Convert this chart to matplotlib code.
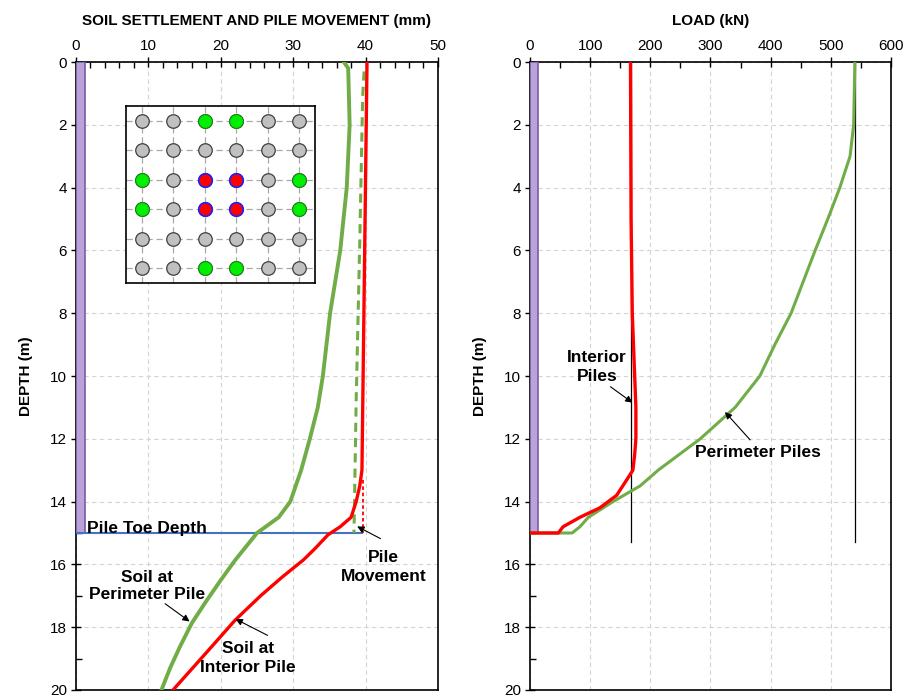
import matplotlib
matplotlib.use("Agg")
import matplotlib.pyplot as plt
from matplotlib.ticker import MultipleLocator

plt.rcParams['font.family'] = ['Liberation Sans', 'DejaVu Sans']

# ---- Left panel data (settlement, mm) ----
perim_depth = [0, 0.2, 2, 4, 6, 8, 10, 11, 12, 13, 14, 14.5, 15, 15.86, 16.5, 17.2, 17.87, 18.6, 19.3, 20]
perim_settle = [37.0, 37.6, 37.8, 37.4, 36.5, 35.1, 34.1, 33.4, 32.3, 31.1, 29.6, 28.0, 25.0, 22.0, 20.0, 17.9, 16.0, 14.4, 13.0, 11.8]

inter_depth = [0, 13, 13.5, 14, 14.5, 14.8, 15.06, 15.5, 15.86, 16.4, 17, 17.77, 18.5, 19.2, 20]
inter_settle = [40.2, 39.5, 39.2, 38.7, 38.0, 36.5, 34.8, 33.0, 31.4, 28.5, 25.5, 22.0, 19.2, 16.5, 13.4]

pile_dash_depth = [0.3, 1.1, 5.7, 10.8, 15]
pile_dash_move = [39.8, 39.6, 39.2, 38.7, 38.4]

red_dot_depth = [13.3, 15]
red_dot_move = [39.6, 39.6]

pile_toe = 15.0

# ---- Right panel data (load, kN) ----
int_load_depth = [0, 5, 8, 10, 11, 12, 12.5, 13, 13.3, 13.8, 14.2, 14.5, 14.8, 15, 15]
int_load = [167, 168, 170, 174, 176, 176, 174, 171, 161, 144, 116, 83, 55, 47, 2]

per_load_depth = [0, 2, 3, 4, 5, 6, 7, 8, 9, 10, 11, 11.5, 12, 13, 13.5, 14, 14.5, 14.8, 15, 15]
per_load = [540, 538, 532, 515, 495, 474, 454, 434, 407, 382, 341, 312, 283, 213, 183, 138, 97, 83, 70, 2]

ref_lines = [168, 540]

# inset grid layout
grid_n = 6
green_cells = [(0, 2), (0, 3), (2, 0), (2, 5), (3, 0), (3, 5), (5, 2), (5, 3)]
red_cells = [(2, 2), (2, 3), (3, 2), (3, 3)]

fig = plt.figure(figsize=(9.06, 7.00), dpi=100)
ax1 = fig.add_axes([0.0839, 0.0143, 0.3995, 0.8971])
ax2 = fig.add_axes([0.585, 0.0143, 0.3984, 0.8971])

def style(ax, xmax, xmaj, xmin):
    ax.set_xlim(0, xmax)
    ax.set_ylim(20, 0)
    ax.xaxis.tick_top()
    ax.xaxis.set_label_position('top')
    ax.xaxis.set_major_locator(MultipleLocator(xmaj))
    ax.xaxis.set_minor_locator(MultipleLocator(xmin))
    ax.yaxis.set_major_locator(MultipleLocator(2))
    ax.yaxis.set_minor_locator(MultipleLocator(1))
    ax.tick_params(which='major', direction='inout', length=7, width=1, labelsize=11, pad=3)
    ax.tick_params(which='minor', direction='in', length=4, width=1)
    ax.tick_params(axis='y', which='both', right=False)
    ax.tick_params(axis='x', which='both', bottom=False)
    ax.grid(True, which='major', color='#d4d4d4', linestyle=(0, (4, 3)), linewidth=0.8)
    for s in ax.spines.values():
        s.set_linewidth(1.2)
    ax.set_ylabel('DEPTH (m)', fontsize=11, fontweight='bold', labelpad=12)

style(ax1, 50, 10, 2)
style(ax2, 600, 100, 50)
ax1.set_xlabel('SOIL SETTLEMENT AND PILE MOVEMENT (mm)', fontsize=11, fontweight='bold', labelpad=10)
ax2.set_xlabel('LOAD (kN)', fontsize=11, fontweight='bold', labelpad=10)

# Left panel
ax1.fill_betweenx([0, pile_toe], 0, 1.2, facecolor='#b9a3d8', edgecolor='#7b5ba8', linewidth=1.2, zorder=3)
ax1.plot([0, 39.5], [pile_toe, pile_toe], color='#4472c4', lw=1.5, zorder=4)
ax1.plot(perim_settle, perim_depth, color='#70ad47', lw=2.8, zorder=5)
ax1.plot(inter_settle, inter_depth, color='#ff0000', lw=2.4, zorder=6)
ax1.plot(pile_dash_move, pile_dash_depth, color='#70ad47', lw=2.2, ls=(0, (3, 2)), zorder=5)
ax1.plot(red_dot_move, red_dot_depth, color='#ff0000', lw=1.3, ls=(0, (2, 1.5)), zorder=5)

tkw = dict(fontsize=12.5, fontweight='bold', ha='center', va='center', zorder=8)
akw = dict(arrowstyle='-|>', color='black', lw=0.8, mutation_scale=10)
ax1.text(1.5, 14.85, 'Pile Toe Depth', fontsize=12.5, fontweight='bold', ha='left', va='center', zorder=8)
ax1.annotate('', xy=(38.5, 14.75), xytext=(42.4, 15.22), arrowprops=akw, zorder=8)
ax1.text(42.5, 16.08, 'Pile\nMovement', linespacing=1.3, **tkw)
ax1.annotate('', xy=(16.0, 17.87), xytext=(12.0, 17.2), arrowprops=akw, zorder=8)
ax1.text(9.8, 16.69, 'Soil at\nPerimeter Pile', linespacing=1.2, **tkw)
ax1.annotate('', xy=(21.7, 17.7), xytext=(26.8, 18.3), arrowprops=akw, zorder=8)
ax1.text(23.8, 18.98, 'Soil at\nInterior Pile', linespacing=1.3, **tkw)

# inset
axi = fig.add_axes([126/906, 1 - 283/700, 189/906, 177/700])
axi.set_xlim(-0.5, grid_n - 0.5)
axi.set_ylim(grid_n - 0.5, -0.5)
axi.set_xticks(range(grid_n))
axi.set_yticks(range(grid_n))
axi.tick_params(length=0, labelbottom=False, labelleft=False)
axi.grid(True, color='#a8a8a8', linestyle=(0, (5, 3)), linewidth=0.9)
for s in axi.spines.values():
    s.set_linewidth(1.2)
gx = [c for r in range(grid_n) for c in range(grid_n)]
gy = [r for r in range(grid_n) for c in range(grid_n)]
axi.scatter(gx, gy, s=95, c='#c0c0c0', edgecolors='#404040', linewidths=0.9, zorder=3)
axi.scatter([c for r, c in green_cells], [r for r, c in green_cells], s=100, c='#00ee00',
            edgecolors='#208020', linewidths=0.8, zorder=4)
axi.scatter([c for r, c in red_cells], [r for r, c in red_cells], s=95, c='#ff0000',
            edgecolors='#2020ff', linewidths=1.2, zorder=4)

# Right panel
ax2.fill_betweenx([0, pile_toe], 0, 13, facecolor='#b9a3d8', edgecolor='#7b5ba8', linewidth=1.2, zorder=3)
for xv in ref_lines:
    ax2.plot([xv, xv], [0, 15.3], color='black', lw=0.9, zorder=4)
ax2.plot(per_load, per_load_depth, color='#70ad47', lw=2.2, zorder=5)
ax2.plot(int_load, int_load_depth, color='#ff0000', lw=2.4, zorder=6)
ax2.annotate('', xy=(174, 10.9), xytext=(130, 10.29), arrowprops=akw, zorder=8)
ax2.text(111, 9.71, 'Interior\nPiles', linespacing=1.3, **tkw)
ax2.annotate('', xy=(321, 11.08), xytext=(369, 12.1), arrowprops=akw, zorder=8)
ax2.text(379, 12.45, 'Perimeter Piles', **tkw)

fig.savefig('out.png', dpi=100)
